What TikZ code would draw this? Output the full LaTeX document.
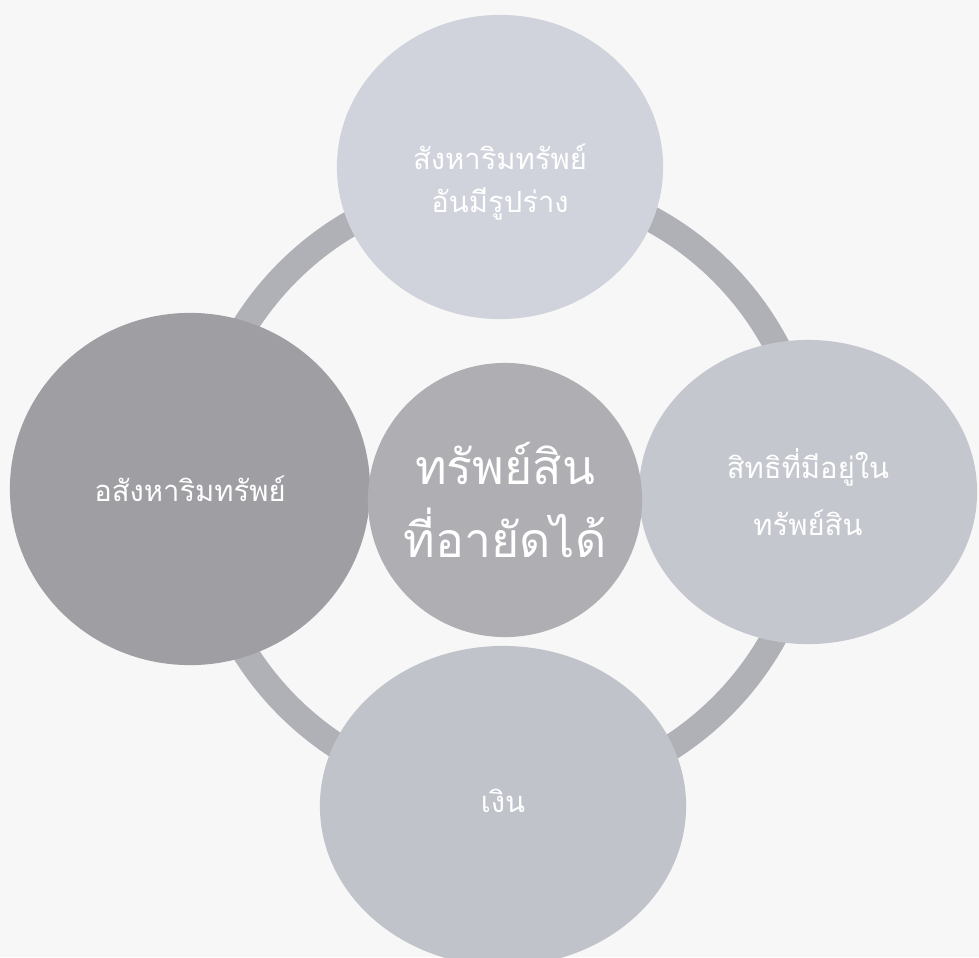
\documentclass[tikz,border=0pt]{standalone}
\usepackage{fontspec}
\newfontfamily\thaifont[Script=Thai]{Loma}
\usepackage{tikz}
\usetikzlibrary{shapes.geometric, positioning, calc}
\definecolor{paper}{HTML}{F7F7F8}
\definecolor{ringgray}{HTML}{B0B1B7}
\definecolor{topgray}{HTML}{D0D3DB}
\definecolor{rightgray}{HTML}{C5C7CE}
\definecolor{bottomgray}{HTML}{C1C3CA}
\definecolor{leftgray}{HTML}{9E9EA3}
\definecolor{hubgray}{HTML}{AEAEB3}

\begin{document}
\begin{tikzpicture}[
    x=0.01cm, y=-0.01cm,
    bubble/.style={
        ellipse,
        draw=none,
        inner sep=0pt
    },
    caption/.style={
        text=white,
        align=center,
        inner sep=0pt,
        font=\thaifont\fontsize{8.3}{12.5}\selectfont
    },
    hubcaption/.style={
        caption,
        font=\thaifont\fontsize{13.7}{21}\selectfont
    },
    band/.style={
        draw=ringgray,
        line width=0.26cm
    }
]

% ============================================================
% Page and ring
% ============================================================

\fill[paper] (0,0) rectangle (979,957);
\useasboundingbox (0,0) rectangle (979,957);

\coordinate (hub) at (505,489);
\draw[band] (hub) circle[radius=307];

% ============================================================
% Outer bubbles
% ============================================================

\node[bubble, fill=topgray, minimum width=3.26cm, minimum height=3.04cm]
    (movable) at (500,167) {};
\node[bubble, fill=rightgray, minimum width=3.38cm, minimum height=3.04cm]
    (rights) at (808,492) {};
\node[bubble, fill=bottomgray, minimum width=3.66cm, minimum height=3.20cm]
    (money) at (503,806) {};
\node[bubble, fill=leftgray, minimum width=3.60cm, minimum height=3.52cm]
    (land) at (190,489) {};

\node[caption] (movabletxt) at ($(movable)+(0,15)$) {สังหาริมทรัพย์\\อันมีรูปร่าง};
\node[caption, font=\thaifont\fontsize{8.3}{16}\selectfont]
    (rightstxt) at (rights) {สิทธิที่มีอยู่ใน\\ทรัพย์สิน};
\node[caption] (moneytxt) at ($(money)+(0,-5)$) {เงิน};
\node[caption] (landtxt) at (land) {อสังหาริมทรัพย์};

% ============================================================
% Centre bubble
% ============================================================

\node[bubble, fill=hubgray, minimum width=2.74cm, minimum height=2.74cm]
    (assets) at (505,500) {};
\node[hubcaption] (assetstxt) at (assets) {ทรัพย์สิน\\ที่อายัดได้};
\end{tikzpicture}
\end{document}
